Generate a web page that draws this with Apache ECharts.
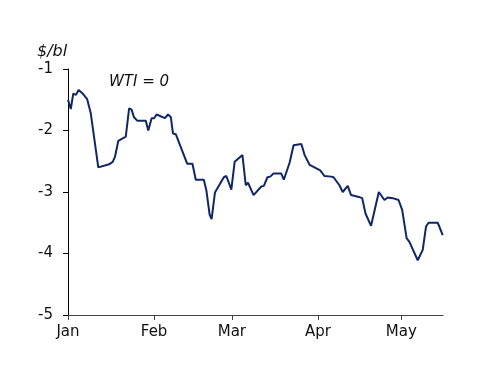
<!DOCTYPE html>
<html><head><meta charset="utf-8">
<script src="https://cdn.jsdelivr.net/npm/echarts@6/dist/echarts.min.js"></script>
<style>html,body{margin:0;padding:0;background:#fff}#c{width:500px;height:386px}</style>
</head><body><div id="c"></div>
<script>
// days since Jan 1
const days = [0,1.0,1.9,2.9,3.8,5.3,6.9,8.2,10.9,14.8,16.1,16.9,18.1,20.8,22.0,22.9,23.7,24.9,28.0,28.9,30.1,31.0,31.9,34.9,36.0,37.0,37.8,38.8,42.9,44.8,46.0,48.9,49.8,51.0,51.7,52.9,56.1,57.0,58.8,60.0,62.8,64.0,64.8,66.8,69.6,70.5,71.8,72.8,74.0,76.8,77.7,79.8,81.2,84.0,85.2,87.0,90.8,92.3,94.8,95.6,97.7,98.9,100.7,101.9,104.7,105.9,107.1,109.1,111.9,113.9,115.1,116.9,119.0,120.3,121.9,122.9,125.9,127.7,128.9,129.8,133.1,134.9];
const spread = [-1.50,-1.65,-1.40,-1.42,-1.34,-1.40,-1.49,-1.72,-2.60,-2.55,-2.51,-2.43,-2.17,-2.10,-1.64,-1.66,-1.78,-1.84,-1.84,-2.00,-1.80,-1.80,-1.74,-1.80,-1.74,-1.78,-2.05,-2.06,-2.54,-2.54,-2.80,-2.80,-2.97,-3.37,-3.44,-3.01,-2.76,-2.74,-2.96,-2.51,-2.40,-2.89,-2.85,-3.05,-2.91,-2.90,-2.76,-2.75,-2.70,-2.70,-2.80,-2.52,-2.24,-2.22,-2.40,-2.56,-2.65,-2.74,-2.75,-2.76,-2.89,-3.00,-2.90,-3.05,-3.08,-3.10,-3.35,-3.55,-3.00,-3.13,-3.09,-3.10,-3.13,-3.29,-3.75,-3.81,-4.11,-3.94,-3.56,-3.50,-3.50,-3.70];
const monthStarts = [0,31,59,90,120];
const monthLabels = ['Jan','Feb','Mar','Apr','May'];
const yTicks = [-5,-4,-3,-2,-1];

const FONT = 'DejaVu Sans';
const chart = echarts.init(document.getElementById('c'));
chart.setOption({
  animation:false,
  grid:{left:68,right:57,top:69,bottom:71},
  xAxis:{type:'value',min:0,max:135,
    axisLine:{show:true,lineStyle:{color:'#444',width:1}},
    axisTick:{show:true,length:5,customValues:monthStarts,lineStyle:{color:'#444'}},
    axisLabel:{customValues:monthStarts,formatter:v=>monthLabels[monthStarts.indexOf(v)]||'',
      fontFamily:FONT,fontSize:15,color:'#111',margin:10},
    splitLine:{show:false}},
  yAxis:{type:'value',min:-5,max:-1,interval:1,
    axisLine:{show:true,lineStyle:{color:'#000',width:1}},
    axisTick:{show:true,length:5,lineStyle:{color:'#000'}},
    axisLabel:{fontFamily:FONT,fontSize:15,color:'#111',margin:15,
      formatter:v=>yTicks.includes(v)?String(v):''},
    splitLine:{show:false}},
  graphic:[
    {type:'text',left:37,top:44,style:{text:'$/bl',font:'italic 16px "DejaVu Sans"',fill:'#111'}},
    {type:'text',left:109,top:75,style:{text:'WTI = 0',font:'italic 15px "DejaVu Sans"',fill:'#111'}}
  ],
  series:[{type:'line',data:days.map((d,i)=>[d,spread[i]]),showSymbol:false,
    lineStyle:{color:'#102766',width:2},itemStyle:{color:'#102766'}}]
});
</script></body></html>
